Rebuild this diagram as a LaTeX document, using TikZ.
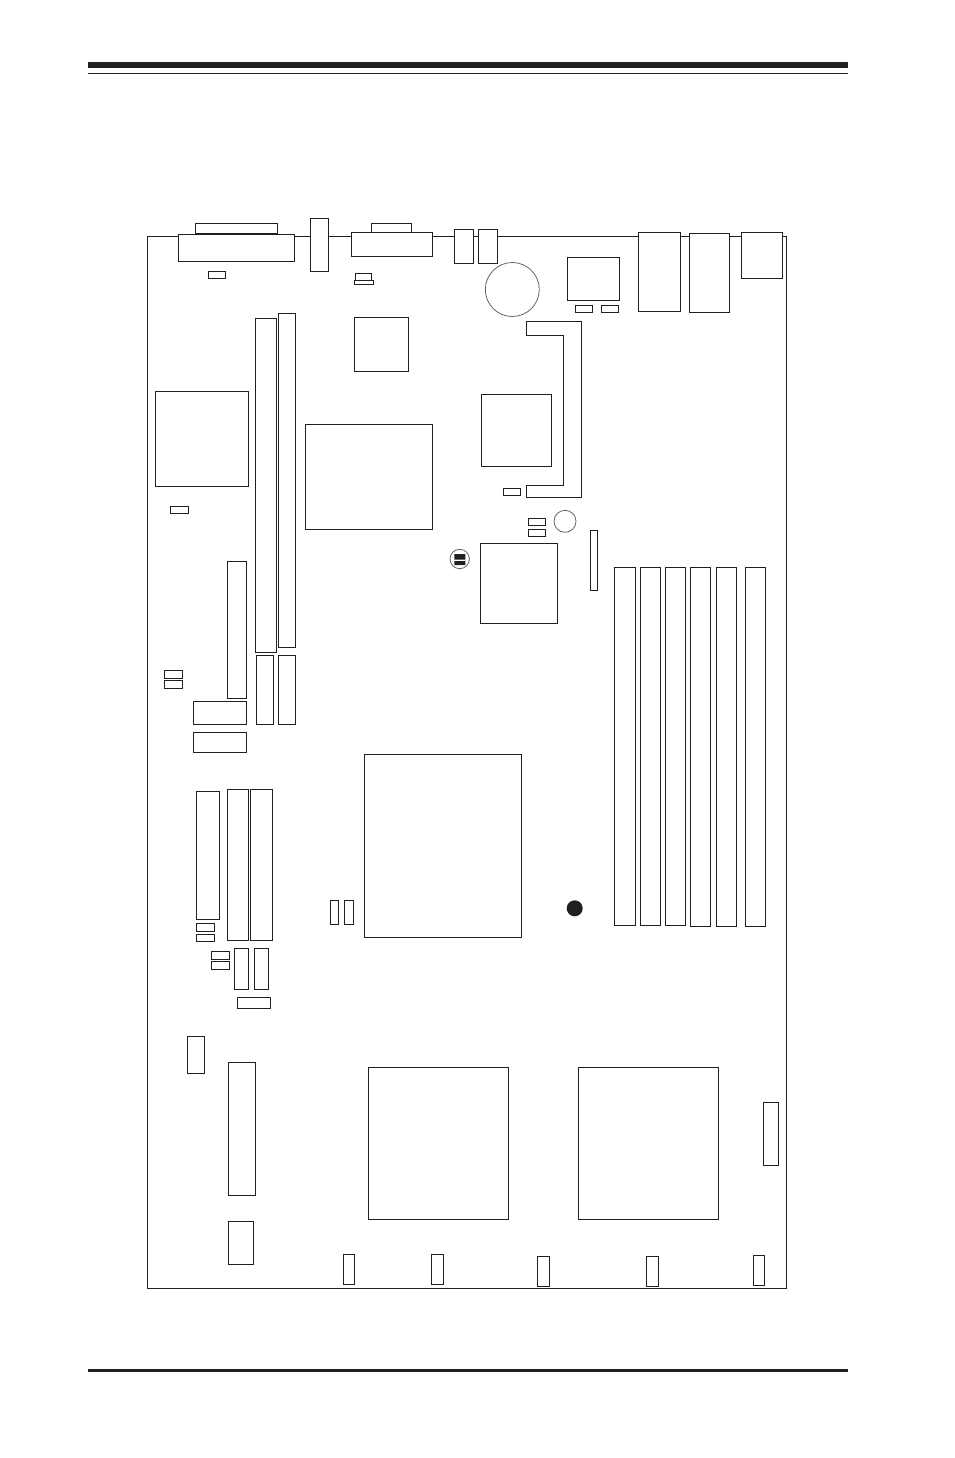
\documentclass[tikz,border=0pt]{standalone}
\usepackage{tikz}
\definecolor{ink}{HTML}{231F20}
\tikzset{part/.style={draw=ink,fill=white,line width=1pt},
  ring/.style={draw=ink!70,line width=.8pt}}
\begin{document}
\begin{tikzpicture}[x=1pt,y=-1pt,line join=miter]
\useasboundingbox (0,0) rectangle (954,1458);
% Rules top and bottom
\fill[ink] (88,62) rectangle (848,68);
\draw[ink,line width=1.2pt] (88,73.3)--(848,73.3);
\draw[ink,line width=3pt] (88,1370.5)--(848,1370.5);
% Board
\draw[ink,line width=1pt] (147.3,236.4) rectangle (786.3,1288.3);
% Rear connectors
\foreach \xa/\ya/\xb/\yb in {195.3/223.3/277.3/233.7,178.3/234.3/294.7/261.3,310.3/218.3/328.7/271.3,
  371.3/223.3/411/232.3,351.3/232.3/432/256.7,454.3/229.3/473.7/263.3,478.3/229.3/497.3/263.3,
  638.3/232.3/680.7/311.3,689.3/233.3/729.7/312.3,741.3/232.3/782.7/278.3}
  \draw[part] (\xa,\ya) rectangle (\xb,\yb);
% Small jumpers
\foreach \xa/\ya/\xb/\yb in {208.3/271.3/225.7/278.7,355.3/273.3/371/280,354.3/280/373/284.7,
  575.3/305.3/592.7/312.3,601.3/305.3/618.7/312.3,503.3/488.3/520.7/495.3,
  528.3/518.3/545.7/525.3,528.3/529.3/545.7/536.3,170.3/506.3/188.7/513.3,
  164.3/670.3/182.7/678.7,164.3/680.3/182.7/688.7,196.3/923.3/214.7/931.7,196.3/934.3/214.7/941.7,
  211.3/951.3/229.7/959.7,211.3/961.3/229.7/969.7}
  \draw[part] (\xa,\ya) rectangle (\xb,\yb);
% Chips
\foreach \xa/\ya/\xb/\yb in {567.3/257.3/619.7/300.3,354.3/317.3/408.7/371.3,155.3/391.3/248.5/486.3,
  305.3/424.3/432.5/529.3,481.3/394.3/551.7/466.3,480.3/543.3/557.3/623.3,
  364.3/754.3/521.5/937.3,368.3/1067.3/508.5/1219.3,578.3/1067.3/718.7/1219.3}
  \draw[part] (\xa,\ya) rectangle (\xb,\yb);
% Slots and headers
\foreach \xa/\ya/\xb/\yb in {255.3/318.3/276.7/652.3,278.3/313.3/295.7/647.3,590.3/530.3/597.3/590.3,
  227.3/561.3/246.7/698.3,193.3/701.3/246.7/724.3,193.3/732.3/246.7/752.3,
  256.3/655.3/273.7/724.3,278.3/655.3/295.7/724.3,196.3/791.3/219.7/919.3,
  227.3/789.3/248.7/940.3,250.3/789.3/272.7/940.3,234.3/948.3/248.7/989.3,254.3/948.3/268.7/989.3,
  237.3/997.3/270.3/1008.3,330.3/900.3/338.7/924.3,344.3/900.3/353.7/924.3,
  187.3/1036.3/204.7/1073.3,228.3/1062.3/255.7/1195.3,228.3/1221.3/253.3/1264.3,763.3/1102.3/778.7/1165.7,
  343.3/1254.3/354.7/1284.3,431.3/1254.3/443.7/1284.3,537.3/1256.3/549.7/1286.3,
  646.3/1256.3/658.7/1286.3,753.3/1255.3/764.7/1285.3}
  \draw[part] (\xa,\ya) rectangle (\xb,\yb);
% Memory slots
\foreach \xa/\xb/\yb in {614.3/635.7/925.3,640.3/660.7/925.3,665.3/685.7/925.3,
  690.3/710.7/926.3,716.3/736.7/926.3,745.3/765.7/926.3}
  \draw[part] (\xa,567.3) rectangle (\xb,\yb);
% Bracket
\draw[ink,line width=1pt] (526.3,321.3)--(581.3,321.3)--(581.3,497.3)--(526.3,497.3)--(526.3,485.3)
  --(563.7,485.3)--(563.7,335.3)--(526.3,335.3)--cycle;
% Round parts
\draw[ring] (512.3,289.5) circle (27);
\draw[ring] (565,521.3) circle (11);
\draw[ring] (459.7,559) circle (9.7);
\fill[ink] (454.3,554) rectangle (465.3,559.7) (454.3,561) rectangle (465.3,565);
\fill[ink] (574.7,908.3) circle (8);
\end{tikzpicture}
\end{document}
